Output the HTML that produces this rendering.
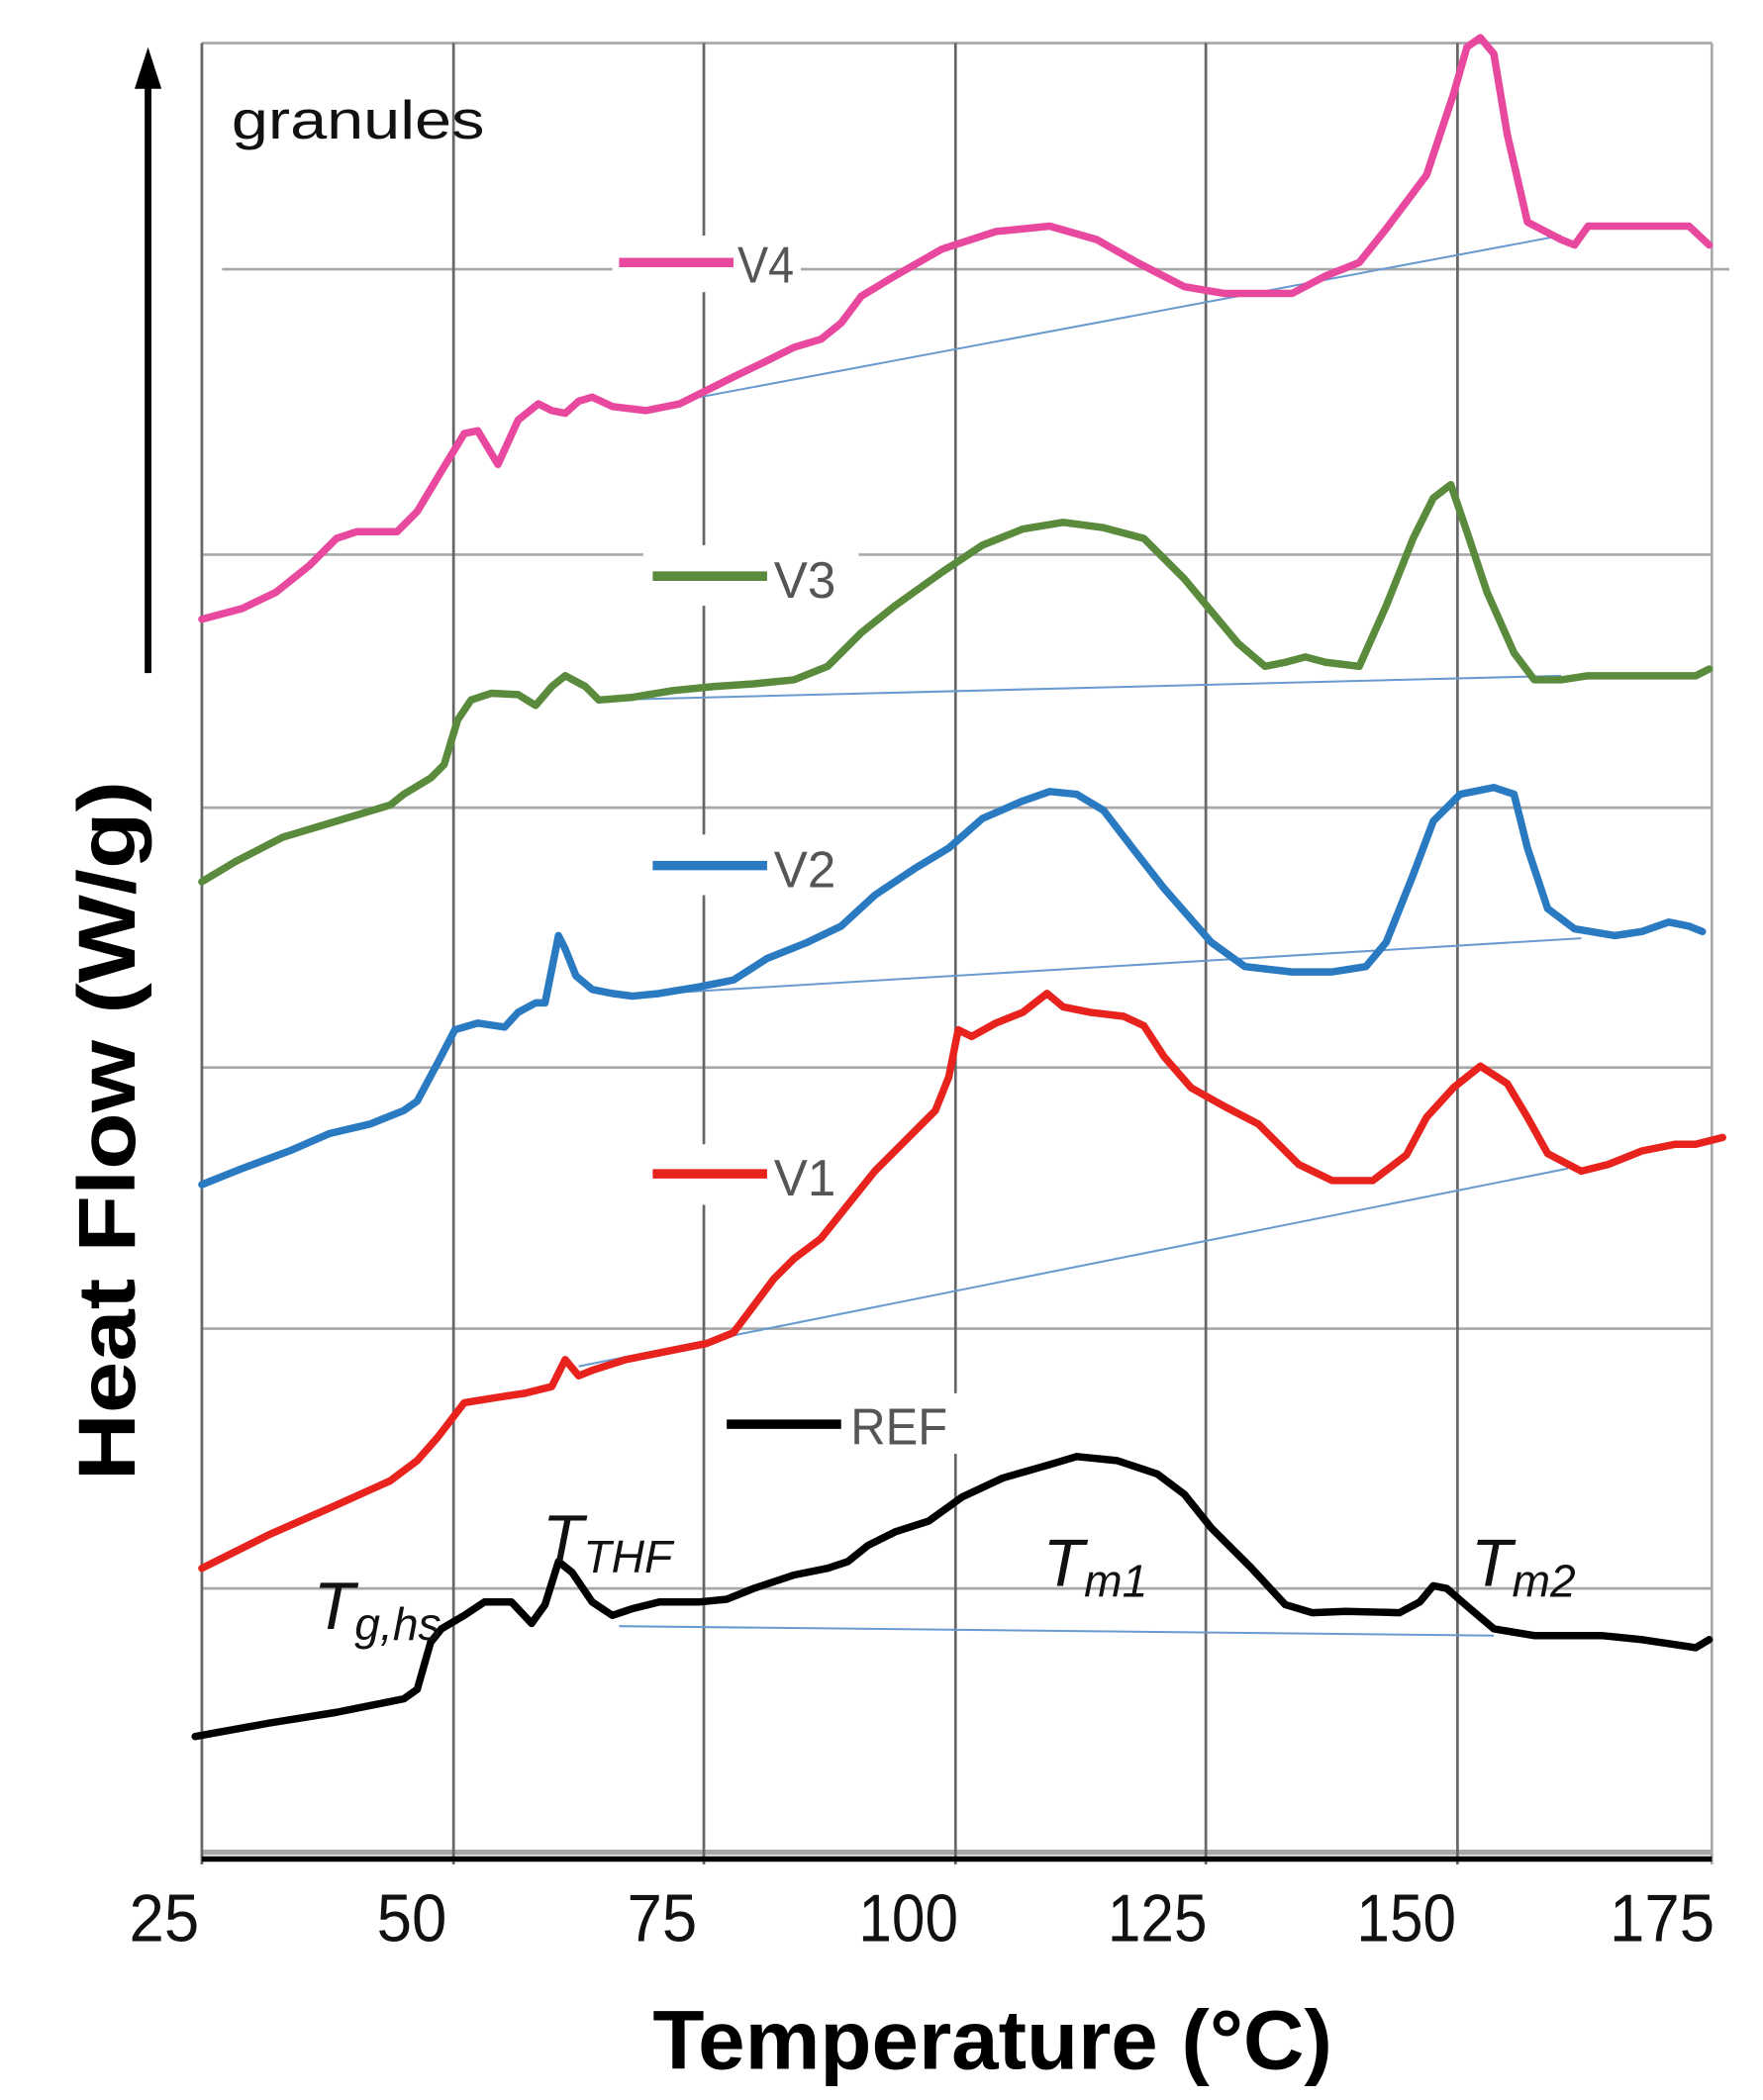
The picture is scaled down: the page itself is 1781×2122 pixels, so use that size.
<!DOCTYPE html>
<html><head><meta charset="utf-8"><style>html,body{margin:0;padding:0;background:#fff}svg{display:block}</style></head><body>
<svg width="1781" height="2122" viewBox="0 0 1310 1560" preserveAspectRatio="none" xmlns="http://www.w3.org/2000/svg" font-family="Liberation Sans, sans-serif">
<rect width="1310" height="1560" fill="#fff"/>
<g stroke="#a8a8a8" stroke-width="2">
<line x1="165" y1="200" x2="1285" y2="200"/>
<line x1="150" y1="412" x2="1272" y2="412"/>
<line x1="150" y1="600" x2="1272" y2="600"/>
<line x1="150" y1="793" x2="1272" y2="793"/>
<line x1="150" y1="987" x2="1272" y2="987"/>
<line x1="150" y1="1180" x2="1272" y2="1180"/>
<line x1="150" y1="32" x2="1272" y2="32"/>
<line x1="150" y1="1376" x2="1272" y2="1376" stroke-width="4"/>
</g>
<g stroke="#666" stroke-width="2">
<line x1="150" y1="32" x2="150" y2="1385"/><line x1="337" y1="32" x2="337" y2="1385"/><line x1="523" y1="32" x2="523" y2="1385"/><line x1="710" y1="32" x2="710" y2="1385"/><line x1="896" y1="32" x2="896" y2="1385"/><line x1="1083" y1="32" x2="1083" y2="1385"/><line x1="1272" y1="32" x2="1272" y2="1385" stroke="#aaa"/>
</g>
<line x1="150" y1="1381" x2="1272" y2="1381" stroke="#000" stroke-width="4"/>
<g fill="#fff"><rect x="455" y="175" width="140" height="42"/><rect x="478" y="405" width="160" height="45"/><rect x="478" y="620" width="160" height="45"/><rect x="478" y="850" width="160" height="45"/><rect x="533" y="1035" width="180" height="45"/></g>
<g stroke="#6a9ad0" stroke-width="1.5" fill="none">
<line x1="520" y1="295" x2="1160" y2="175"/><line x1="450" y1="520" x2="1160" y2="502"/><line x1="490" y1="738" x2="1175" y2="697"/><line x1="430" y1="1015" x2="1165" y2="868"/><line x1="460" y1="1208" x2="1110" y2="1215"/>
</g>
<g fill="none" stroke-width="5.5" stroke-linejoin="round" stroke-linecap="round">
<polyline stroke="#e8489e" points="150,460 180,452 205,440 230,420 250,400 265,395 295,395 310,380 325,355 345,322 355,320 370,345 385,312 400,300 410,305 420,307 430,298 440,295 455,302 480,305 505,300 525,290 545,280 570,268 590,258 610,252 625,240 640,220 665,205 700,185 740,172 780,168 815,178 845,195 880,213 910,218 960,218 985,205 1010,195 1030,170 1060,130 1080,70 1090,35 1100,28 1110,40 1120,100 1135,165 1160,178 1170,182 1180,168 1220,168 1255,168 1270,182"/>
<polyline stroke="#5a8a3c" points="150,655 175,640 210,622 250,610 290,598 300,590 320,578 330,568 340,535 350,520 365,515 385,516 398,524 410,510 420,502 435,510 445,520 470,518 500,513 530,510 560,508 590,505 615,495 640,470 665,450 700,425 730,405 760,393 790,388 820,392 850,400 880,430 905,460 920,478 940,495 955,492 970,488 985,492 1010,495 1030,450 1050,400 1065,370 1078,360 1090,395 1105,440 1125,485 1140,505 1160,505 1180,502 1220,502 1260,502 1270,497"/>
<polyline stroke="#2a7ac2" points="150,880 180,868 215,855 245,842 275,835 300,825 310,818 325,790 338,765 355,760 375,763 385,752 398,745 405,745 410,720 415,695 420,705 428,725 440,735 455,738 470,740 490,738 520,733 545,728 570,712 600,700 625,688 650,665 680,645 705,630 730,608 760,595 780,588 800,590 820,602 840,628 865,660 900,700 925,718 960,722 990,722 1015,718 1030,700 1050,650 1065,610 1085,590 1110,585 1125,590 1135,630 1150,675 1170,690 1200,695 1220,692 1240,685 1255,688 1265,692"/>
<polyline stroke="#e8221c" points="150,1165 200,1140 250,1118 290,1100 310,1085 325,1068 345,1042 370,1038 390,1035 410,1030 420,1010 430,1022 440,1018 465,1010 500,1003 525,998 545,990 560,970 575,950 590,935 610,920 630,895 650,870 670,850 685,835 695,825 705,800 712,765 722,770 740,760 760,752 778,738 790,748 810,752 835,755 850,762 865,785 885,808 910,822 935,835 965,865 990,877 1020,877 1045,858 1060,830 1080,808 1100,792 1120,805 1135,830 1150,857 1175,870 1195,865 1220,855 1245,850 1260,850 1280,845"/>
<polyline stroke="#000" points="145,1290 200,1280 250,1272 300,1262 310,1255 320,1220 328,1210 345,1200 360,1190 380,1190 395,1206 405,1192 415,1160 425,1168 440,1190 455,1200 470,1195 490,1190 520,1190 540,1188 560,1180 590,1170 615,1165 630,1160 645,1148 665,1138 690,1130 715,1112 745,1098 780,1088 800,1082 830,1085 860,1095 880,1110 900,1135 930,1165 955,1192 975,1198 1000,1197 1040,1198 1055,1190 1065,1178 1075,1180 1090,1193 1110,1210 1140,1215 1190,1215 1220,1218 1260,1224 1270,1218"/>
</g>
<g stroke-width="7">
<line x1="460" y1="195" x2="545" y2="195" stroke="#e8489e"/>
<line x1="485" y1="428" x2="570" y2="428" stroke="#5a8a3c"/>
<line x1="485" y1="643" x2="570" y2="643" stroke="#2a7ac2"/>
<line x1="485" y1="872" x2="570" y2="872" stroke="#e8221c"/>
<line x1="540" y1="1058" x2="625" y2="1058" stroke="#000"/>
</g>
<g fill="#555" font-size="38">
<text x="548" y="210" textLength="42" lengthAdjust="spacingAndGlyphs">V4</text><text x="575" y="444" textLength="46" lengthAdjust="spacingAndGlyphs">V3</text><text x="575" y="659" textLength="46" lengthAdjust="spacingAndGlyphs">V2</text><text x="575" y="888" textLength="46" lengthAdjust="spacingAndGlyphs">V1</text><text x="632" y="1073" textLength="72" lengthAdjust="spacingAndGlyphs">REF</text>
</g>
<text x="172" y="103" font-size="40" fill="#111" textLength="188" lengthAdjust="spacingAndGlyphs">granules</text>
<g font-style="italic" fill="#111">
<text x="233" y="1210" font-size="50">T<tspan font-size="34" dy="8">g,hs</tspan></text>
<text x="403" y="1160" font-size="50">T<tspan font-size="34" dy="8">THF</tspan></text>
<text x="775" y="1178" font-size="50">T<tspan font-size="34" dy="8">m1</tspan></text>
<text x="1093" y="1178" font-size="50">T<tspan font-size="34" dy="8">m2</tspan></text>
</g>
<line x1="110" y1="500" x2="110" y2="60" stroke="#000" stroke-width="5"/>
<polygon points="100,66 110,35 120,66" fill="#000"/>
<g font-size="50" fill="#111">
<text x="96" y="1442" textLength="52" lengthAdjust="spacingAndGlyphs">25</text>
<text x="280" y="1442" textLength="52" lengthAdjust="spacingAndGlyphs">50</text>
<text x="466" y="1442" textLength="52" lengthAdjust="spacingAndGlyphs">75</text>
<text x="638" y="1442" textLength="74" lengthAdjust="spacingAndGlyphs">100</text>
<text x="823" y="1442" textLength="74" lengthAdjust="spacingAndGlyphs">125</text>
<text x="1008" y="1442" textLength="74" lengthAdjust="spacingAndGlyphs">150</text>
<text x="1196" y="1442" textLength="78" lengthAdjust="spacingAndGlyphs">175</text>
</g>
<text x="485" y="1537" font-size="62" font-weight="bold" fill="#000" textLength="505" lengthAdjust="spacingAndGlyphs">Temperature (°C)</text>
<text transform="translate(100,1100) rotate(-90)" font-size="60" font-weight="bold" fill="#000" textLength="520" lengthAdjust="spacingAndGlyphs">Heat Flow (W/g)</text>
</svg>
</body></html>
